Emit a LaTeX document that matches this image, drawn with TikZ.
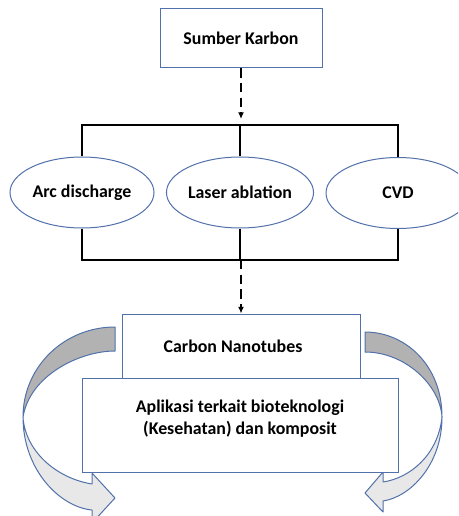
\documentclass[tikz,border=0pt]{standalone}
\usepackage{fontspec}
\setmainfont{Carlito}
\usetikzlibrary{shapes.geometric,arrows.meta}
\definecolor{boxblue}{RGB}{82,113,170}
\definecolor{backgray}{RGB}{178,178,178}
\definecolor{frontgray}{RGB}{232,232,232}
\begin{document}
\begin{tikzpicture}[x=0.75pt,y=0.75pt]
  \tikzstyle{every node}+=[inner sep=0pt, font=\fontsize{13.4}{16.5}\selectfont\bfseries]
  \tikzstyle{stage}=[draw=boxblue, line width=0.75pt, fill=white, rectangle]
  \tikzstyle{route}=[draw=boxblue, line width=0.75pt, fill=white, ellipse, minimum width=108pt, minimum height=53.25pt]
  \tikzstyle{link}=[black, line width=1.9pt]
  \tikzstyle{flow}=[black, line width=1.7pt, dash pattern=on 7pt off 4pt, -{Latex[length=5pt,width=4.5pt]}]
  \tikzstyle{turn}=[draw=boxblue, line width=0.75pt, line join=round]
  \useasboundingbox (0,0) rectangle (458,-516);
  \clip (0,0) rectangle (458,-516);
  % curved arrows, left
  \filldraw [turn, fill=backgray] (115,-327) .. controls (64,-327) and (23,-367) .. (23,-417)
    .. controls (30,-375) and (80,-351) .. (115,-351) -- cycle;
  \filldraw [turn, fill=frontgray] (23,-417) .. controls (23,-470) and (60,-507) .. (92,-510)
    -- (92,-523) -- (115,-498) -- (92,-473) -- (92,-484)
    .. controls (55,-478) and (25,-450) .. (23,-417) -- cycle;
  % curved arrows, right
  \filldraw [turn, fill=backgray] (365,-332) .. controls (405,-332) and (442,-365) .. (442,-417)
    .. controls (440,-385) and (405,-352) .. (365,-352) -- cycle;
  \filldraw [turn, fill=frontgray] (442,-417) .. controls (442,-465) and (410,-497) .. (383,-501)
    -- (383,-512) -- (365,-493) -- (383,-472) -- (383,-482)
    .. controls (410,-478) and (438,-455) .. (442,-417) -- cycle;
  % nodes
  \node [stage, minimum width=121.5pt, minimum height=44.25pt] (source) at (241,-38.5) {Sumber Karbon};
  \node [route] (arc) at (82,-192.5) {Arc discharge};
  \node [route] (laser) at (240,-192.5) {Laser ablation};
  \node [route] (cvd) at (398,-193) {CVD};
  \node [stage, minimum width=178.5pt, minimum height=48pt] (cnt) at (241,-346) {Carbon Nanotubes\hspace*{12pt}};
  \node [stage, minimum width=237pt, minimum height=70.5pt, text depth=11pt, align=center] (app) at (240,-425)
    {Aplikasi terkait bioteknologi\\(Kesehatan) dan komposit};
  % connectors
  \coordinate (topbar) at (241,-125);
  \coordinate (botbar) at (241,-260);
  \draw [flow] (source.south) -- ([yshift=4.5pt]topbar);
  \draw [link] (arc.north) |- (topbar) -| (cvd.north);
  \draw [link] (laser.north) -- (laser.north |- topbar);
  \draw [link] (arc.south) |- (botbar) -| (cvd.south);
  \draw [link] (laser.south) -- (laser.south |- botbar);
  \draw [flow] (botbar) -- (cnt.north);
\end{tikzpicture}
\end{document}
